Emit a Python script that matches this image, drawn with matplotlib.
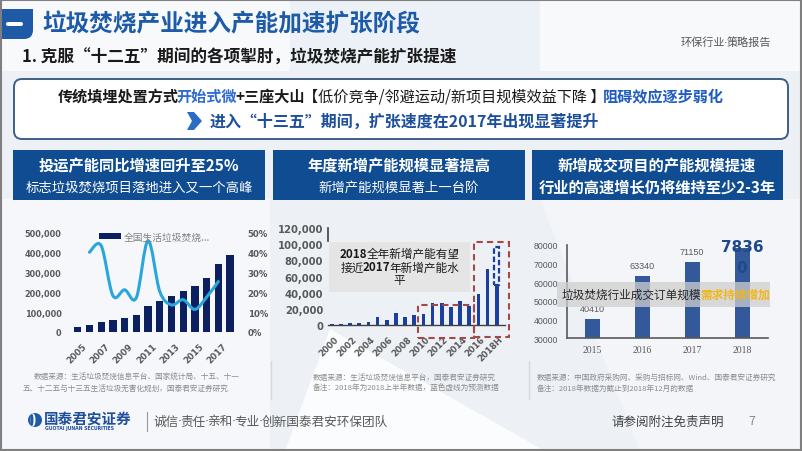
import matplotlib
matplotlib.use('Agg')
import matplotlib.pyplot as plt
import matplotlib.transforms as mtrans
from matplotlib.patches import FancyBboxPatch, Rectangle, Polygon, PathPatch, Circle, Ellipse
from matplotlib.path import Path
from matplotlib.lines import Line2D
import numpy as np

plt.rcParams['font.family'] = ['Noto Sans CJK SC', 'DejaVu Sans']

# ---------------- data ----------------
years1 = list(range(2005, 2019))
capacity1 = [25000, 34000, 49000, 60000, 72000, 87000, 129000, 158000,
             180000, 208000, 233000, 272000, 341000, 391000]
growth_years = list(range(2006, 2018))
growth = [40.3, 43.6, 18.4, 21.3, 17.3, 46.1, 20.5, 13.7, 16.3, 11.4, 17.6, 25.5]
y1_ticks = [0, 100000, 200000, 300000, 400000, 500000]
y1_labels = ['0', '100,000', '200,000', '300,000', '400,000', '500,000']
y1r_ticks = [0, 10, 20, 30, 40, 50]
y1r_labels = ['0%', '10%', '20%', '30%', '40%', '50%']
x1_ticks = [2005, 2007, 2009, 2011, 2013, 2015, 2017]
legend1 = '全国生活垃圾焚烧...'

years2 = list(range(2000, 2019))
new_cap = [1000, 1000, 3000, 3000, 3300, 9900, 6600, 14800, 9500, 12800,
           13200, 26800, 26800, 21900, 29300, 23000, 38400, 69300, 49900]
forecast_low, forecast_high = 50000, 97000
y2_ticks = [0, 20000, 40000, 60000, 80000, 100000, 120000]
y2_labels = ['0', '20,000', '40,000', '60,000', '80,000', '100,000', '120,000']
x2_ticks = [2000, 2002, 2004, 2006, 2008, 2010, 2012, 2014, 2016, 2018]
x2_labels = ['2000', '2002', '2004', '2006', '2008', '2010', '2012', '2014', '2016', '2018H']

years3 = ['2015', '2016', '2017', '2018']
orders = [40410, 63340, 71150, 78360]
y3_ticks = [30000, 40000, 50000, 60000, 70000, 80000]

# ---------------- figure ----------------
W, H = 802, 452
fig = plt.figure(figsize=(8.02, 4.52), dpi=100)
fig.patch.set_facecolor('#edf1f6')


def rect(x0, y0, x1, y1):
    return [x0 / W, 1 - y1 / H, (x1 - x0) / W, (y1 - y0) / H]


bg = fig.add_axes([0, 0, 1, 1], zorder=0)
bg.set_xlim(0, W); bg.set_ylim(H, 0); bg.axis('off')
fg = fig.add_axes([0, 0, 1, 1], zorder=20)
fg.set_xlim(0, W); fg.set_ylim(H, 0); fg.axis('off'); fg.patch.set_alpha(0)

renderer = fig.canvas.get_renderer()


def rich(ax, x, y, segs, ha='left', zorder=5, tight=1.0):
    ts, ws = [], []
    for s, kw in segs:
        t = ax.text(0, y, s, va='center', ha='left', zorder=zorder, **kw)
        ws.append(t.get_window_extent(renderer=renderer).width - tight)
        ts.append(t)
    total = sum(ws)
    if ha == 'center':
        cur = x - total / 2
    elif ha == 'right':
        cur = x - total
    else:
        cur = x
    for t, w in zip(ts, ws):
        t.set_x(cur)
        cur += w


def dotted(text, kw):
    parts = text.split('·')
    segs = []
    dkw = dict(kw)
    dkw['family'] = 'DejaVu Sans'
    for i, p in enumerate(parts):
        if i > 0:
            segs.append(('·', dkw))
        segs.append((p, kw))
    return segs

# background shapes
bg.add_patch(Polygon([(0, 0), (802, 0), (802, 72), (0, 72)], closed=True,
                     fc='white', ec='none', alpha=0.6))
bg.add_patch(Polygon([(290, 0), (540, 0), (540, 72), (290, 72)], closed=True,
                     fc='#e6edf5', ec='none', alpha=0.6))
bg.add_patch(Polygon([(0, 200), (270, 200), (270, 452), (0, 452)], closed=True,
                     fc='white', ec='none', alpha=0.45))
bg.add_patch(Polygon([(285, 452), (545, 452), (330, 330)], closed=True,
                     fc='white', ec='none', alpha=0.8))
bg.add_patch(Polygon([(540, 200), (802, 200), (802, 452), (640, 452)], closed=True,
                     fc='white', ec='none', alpha=0.35))

# title tab
bg.add_patch(FancyBboxPatch((-10, 10), 43, 30, boxstyle='round,pad=0,rounding_size=9',
                            fc='#1f5aa6', ec='none'))
bg.add_patch(Rectangle((-10, 10), 43, 14, fc='#1f5aa6', ec='none'))
bg.add_patch(FancyBboxPatch((6, 23), 17, 4, boxstyle='round,pad=0,rounding_size=2',
                            fc='white', ec='none'))
bg.text(42, 24, '垃圾焚烧产业进入产能加速扩张阶段', fontsize=17, fontweight='bold',
        color='#1d5aa8', va='center', ha='left')
bg.text(22, 58, '1. 克服“十二五”期间的各项掣肘，垃圾焚烧产能扩张提速', fontsize=12,
        fontweight='bold', color='#1a1a1a', va='center', ha='left')
rich(bg, 770, 43, dotted('环保行业·策略报告', dict(fontsize=8, color='#595959')), ha='right')

# message box
bg.add_patch(FancyBboxPatch((14, 80), 774, 60, boxstyle='round,pad=0,rounding_size=8',
                            fc='white', ec='#3f5f86', lw=1.4))
fs = 10.9
blk = dict(fontsize=fs, fontweight='bold', color='#1a1a1a')
rich(bg, 390, 97, [
    ('传统填埋处置方式', blk),
    ('开始式微', dict(fontsize=fs, fontweight='bold', color='#2f6bd0')),
    ('+三座大山', blk),
    ('【低价竞争/邻避运动/新项目规模效益下降 】', dict(fontsize=fs, color='#1a1a1a')),
    ('阻碍效应逐步弱化', dict(fontsize=fs, fontweight='bold', color='#1f5cc0')),
], ha='center', tight=2.0)
bg.add_patch(Polygon([(187, 113), (194, 113), (202, 122), (194, 131), (187, 131), (192, 122)],
                     closed=True, fc='#2b6cc4', ec='none'))
bg.text(210, 122, '进入“十三五”期间，扩张速度在2017年出现显著提升', fontsize=11.5,
        fontweight='bold', color='#1d4f9c', va='center', ha='left')

# panel headers
hdr = '#0f4c92'
for (x0, x1) in [(13, 265), (273, 525), (532, 783)]:
    bg.add_patch(Rectangle((x0, 151), x1 - x0, 50, fc=hdr, ec='none'))
bg.text(139, 166, '投运产能同比增速回升至25%', fontsize=11, fontweight='bold', color='white',
        ha='center', va='center')
bg.text(139, 188, '标志垃圾焚烧项目落地进入又一个高峰', fontsize=9.6, color='white',
        ha='center', va='center')
bg.text(399, 166, '年度新增产能规模显著提高', fontsize=11, fontweight='bold', color='white',
        ha='center', va='center')
bg.text(399, 188, '新增产能规模显著上一台阶', fontsize=9.6, color='white',
        ha='center', va='center')
bg.text(657, 166, '新增成交项目的产能规模提速', fontsize=11, fontweight='bold', color='white',
        ha='center', va='center')
bg.text(657, 188, '行业的高速增长仍将维持至少2-3年', fontsize=11, fontweight='bold', color='white',
        ha='center', va='center')

# source notes
src = dict(fontsize=5.5, color='#8c8c8c', va='center', ha='left')
bg.text(34, 378, '数据来源：生活垃圾焚烧信息平台、国家统计局、十五、十一', **src)
bg.text(23, 389, '五、十二五与十三五生活垃圾无害化规划，国泰君安证券研究', **src)
bg.text(313, 378, '数据来源：生活垃圾焚烧信息平台，国泰君安证券研究', **src)
bg.text(313, 389, '备注：2018年为2018上半年数据，蓝色虚线为预测数据', **src)
bg.text(537, 378, '数据来源：中国政府采购网、采购与招标网、Wind、国泰君安证券研究', **src)
bg.text(537, 389, '备注：2018年数据为截止到2018年12月的数据', **src)
bg.add_line(Line2D([271, 271], [362, 400], color='#d3d9e0', lw=1))
bg.add_line(Line2D([529, 529], [362, 400], color='#d3d9e0', lw=1))

# footer
bg.add_patch(Circle((35, 421), 7, fc='#1f5aa6', ec='none'))
bg.add_patch(Ellipse((33, 421), 5, 13, fc='white', ec='none'))
bg.add_patch(Ellipse((32, 421), 3, 12, fc='#1f5aa6', ec='none'))
bg.text(44, 418.5, '国泰君安证券', fontsize=10.5, fontweight='bold', color='#1f4f9a',
        va='center', ha='left')
bg.text(45, 428.5, 'GUOTAI JUNAN SECURITIES', fontsize=3.3, fontweight='bold', color='#1f4f9a',
        va='center', ha='left', family='DejaVu Sans')
bg.add_line(Line2D([147, 147], [413, 432], color='#9a9a9a', lw=0.8))
rich(bg, 153, 422, dotted('诚信·责任·亲和·专业·创新国泰君安环保团队',
                          dict(fontsize=9.1, color='#595959')))
bg.text(611, 422, '请参阅附注免责声明', fontsize=9, color='#404040', va='center', ha='left')
bg.text(748, 422, '7', fontsize=9, color='#8c8c8c', va='center', ha='left')

# ---------------- chart 1 ----------------
navy = '#0c2060'
ax1 = fig.add_axes(rect(70, 234, 238, 333), zorder=5)
ax1.patch.set_alpha(0)
ax1.bar(years1, capacity1, width=0.62, color=navy, zorder=2)
ax1.set_xlim(2004.34, 2018.68)
ax1.set_ylim(0, 500000)
for s in ax1.spines.values():
    s.set_visible(False)
ax1.set_yticks(y1_ticks)
ax1.set_yticklabels(y1_labels, fontsize=5.9, fontweight='bold', color='#595959',
                    family='DejaVu Sans')
ax1.set_xticks(x1_ticks)
ax1.set_xticklabels([str(y) for y in x1_ticks], rotation=45, ha='right', va='top',
                    rotation_mode='anchor', fontsize=6.2, fontweight='bold', color='#595959',
                    family='DejaVu Sans')
ax1.tick_params(axis='both', length=0)
ax1.tick_params(axis='y', pad=6)
ax1.tick_params(axis='x', pad=6.5)
off1 = mtrans.ScaledTranslation(4 / 100, 0, fig.dpi_scale_trans)
for lab in ax1.get_xticklabels():
    lab.set_transform(lab.get_transform() + off1)

ax1r = ax1.twinx()
ax1r.set_ylim(0, 50)
for s in ax1r.spines.values():
    s.set_visible(False)
ax1r.set_yticks(y1r_ticks)
ax1r.set_yticklabels(y1r_labels, fontsize=6.2, fontweight='bold', color='#595959',
                     family='DejaVu Sans')
ax1r.tick_params(axis='y', length=0, pad=7)


def smooth_path(xs, ys):
    pts = np.column_stack([xs, ys]).astype(float)
    verts = [pts[0]]
    codes = [Path.MOVETO]
    n = len(pts)
    for i in range(n - 1):
        p0 = pts[i - 1] if i > 0 else pts[i]
        p1, p2 = pts[i], pts[i + 1]
        p3 = pts[i + 2] if i + 2 < n else pts[i + 1]
        verts += [p1 + (p2 - p0) / 6, p2 - (p3 - p1) / 6, p2]
        codes += [Path.CURVE4] * 3
    return Path(verts, codes)


ax1r.add_patch(PathPatch(smooth_path(growth_years, growth), fc='none', ec='#2aa6dc',
                         lw=2.2, capstyle='round', zorder=3))
ax1r.legend(handles=[Rectangle((0, 0), 1, 1, fc=navy, ec='none')], labels=[legend1],
            loc='center left', bbox_to_anchor=(99 / W, 1 - 237.5 / H),
            bbox_transform=fig.transFigure, frameon=False, fontsize=7,
            labelcolor='#808080', handlelength=2.3, handleheight=0.45,
            handletextpad=0.2, borderpad=0, borderaxespad=0)

# ---------------- chart 2 ----------------
blue2 = '#1a3f9e'
ax2 = fig.add_axes(rect(328, 229, 505, 326), zorder=5)
ax2.patch.set_alpha(0)
ax2.bar(years2, new_cap, width=0.4, color=blue2, zorder=2)
ax2.bar([2018], [forecast_high - forecast_low], bottom=forecast_low, width=0.55,
        fc='none', ec=blue2, lw=1.6, linestyle=(0, (2.5, 1.2)), zorder=3)
ax2.set_xlim(1999.6, 2018.9)
ax2.set_ylim(0, 120000)
for k in ['top', 'right', 'left']:
    ax2.spines[k].set_visible(False)
ax2.spines['bottom'].set_color('#404040')
ax2.spines['bottom'].set_linewidth(1)
ax2.set_yticks(y2_ticks)
ax2.set_yticklabels(y2_labels, fontsize=7.2, fontweight='bold', color='#595959',
                    family='DejaVu Sans')
ax2.set_xticks(x2_ticks)
ax2.set_xticklabels(x2_labels, rotation=45, ha='right', va='top', rotation_mode='anchor',
                    fontsize=6.2, fontweight='bold', color='#595959', family='DejaVu Sans')
ax2.tick_params(axis='both', length=0)
ax2.tick_params(axis='y', pad=3.5)
ax2.tick_params(axis='x', pad=6.5)
off2 = mtrans.ScaledTranslation(2 / 100, 0, fig.dpi_scale_trans)
for lab in ax2.get_xticklabels():
    lab.set_transform(lab.get_transform() + off2)

red = '#a24a46'
for (xa, xb, ya, yb) in [(2009.4, 2015.5, -16000, 24700), (2015.5, 2019.3, -14800, 102700)]:
    ax2.add_patch(Rectangle((xa, ya), xb - xa, yb - ya, fc='none', ec=red, lw=1.5,
                            linestyle=(0, (3, 2)), clip_on=False, zorder=4))
fg.add_line(Line2D([328, 328], [229, 242], color='#404040', lw=1.2))
fg.add_patch(Rectangle((329, 243), 141, 50, fc='#e4e4e4', ec='none', alpha=0.85))
ann = dict(fontsize=8.4, color='#1a1a1a')
annb = dict(fontsize=8.4, color='#1a1a1a', fontweight='bold')
rich(fg, 399, 254, [('2018', annb), ('全年新增产能有望', ann)], ha='center')
rich(fg, 399, 268, [('接近', ann), ('2017', annb), ('年新增产能水', ann)], ha='center')
fg.text(399, 281, '平', ha='center', va='center', **ann)

# ---------------- chart 3 ----------------
blue3 = '#33599a'
ax3 = fig.add_axes(rect(567, 246, 768, 339.3), zorder=5)
ax3.patch.set_alpha(0)
x3 = np.arange(len(years3))
ax3.bar(x3, orders, width=0.3, color=blue3, zorder=2)
ax3.set_xlim(-0.5, 3.52)
ax3.set_ylim(30000, 80000)
for k in ['top', 'right']:
    ax3.spines[k].set_visible(False)
for k in ['left', 'bottom']:
    ax3.spines[k].set_color('#595959')
    ax3.spines[k].set_linewidth(1.2)
ax3.set_yticks(y3_ticks)
ax3.set_yticklabels([str(v) for v in y3_ticks], fontsize=6.3, color='#595959',
                    family='Liberation Sans')
ax3.set_xticks(x3)
ax3.set_xticklabels(years3, fontsize=7, color='#595959', family='Liberation Serif')
ax3.tick_params(axis='both', length=0)
ax3.tick_params(axis='y', pad=6.5)
ax3.tick_params(axis='x', pad=5)
for i in range(3):
    ax3.text(x3[i], orders[i] + 5600, str(orders[i]), ha='center', va='center',
             fontsize=6.5, color='#595959', family='Liberation Sans', zorder=4)
ax3.text(x3[3], orders[3], str(orders[3])[:4] + '\n' + str(orders[3])[4:],
         ha='center', va='center', fontsize=11, fontweight='bold', color='#1f4a8a',
         linespacing=1.45, clip_on=False, zorder=4, family='DejaVu Sans',
         transform=ax3.transData + mtrans.ScaledTranslation(0, -9 / 100, fig.dpi_scale_trans))

fg.add_patch(Rectangle((557, 283), 213, 25, fc='#cfcfcf', ec='none', alpha=0.75))
rich(fg, 562, 295.5, [('垃圾焚烧行业成交订单规模', dict(fontsize=8.4, color='#262626')),
                      ('需求持续增加', dict(fontsize=8.4, fontweight='bold', color='#f2b61a'))])

# frame
fg.add_patch(Rectangle((0.75, 0.75), W - 1.5, H - 1.5, fc='none', ec='#7f7f7f', lw=1.5))

fig.savefig('out.png', dpi=100, facecolor=fig.get_facecolor())
